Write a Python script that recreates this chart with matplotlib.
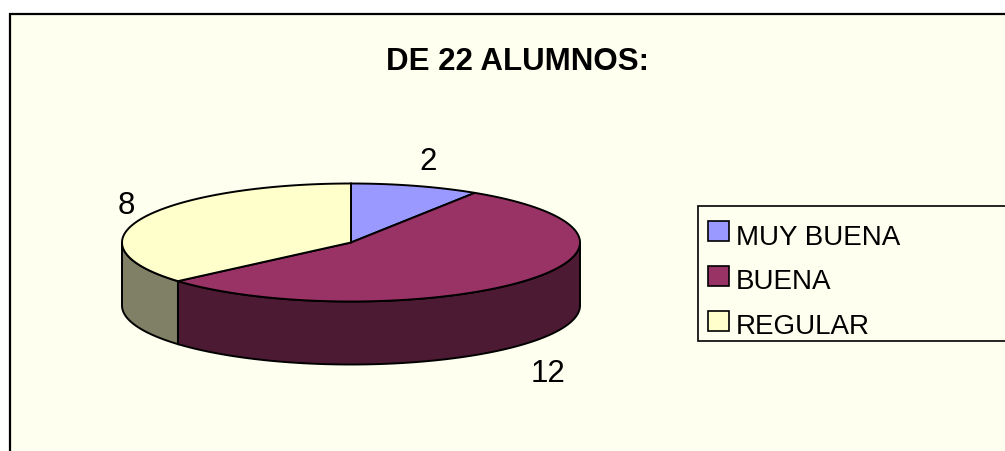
import numpy as np
import matplotlib
matplotlib.use('Agg')
import matplotlib.pyplot as plt
from matplotlib.patches import Rectangle

plt.rcParams['font.family'] = ['Liberation Sans', 'DejaVu Sans']

categories = ['MUY BUENA', 'BUENA', 'REGULAR']
values = [2, 12, 8]
top_colors = ['#9999FF', '#993366', '#FFFFCC']
side_colors = ['#4D4D80', '#4D1A33', '#808066']
bg_color = '#FFFFF0'

W, H = 1005, 452
CX, CY, RX, RY, DEPTH = 351, 243.5, 229, 59, 63

fig = plt.figure(figsize=(W / 100, H / 100), dpi=100, facecolor='white')
ax = fig.add_axes([0, 0, 1, 1])
ax.set_xlim(0, W)
ax.set_ylim(H, 0)
ax.axis('off')

ax.add_patch(Rectangle((10, 15), W + 20, H + 20, fc=bg_color, ec='black', lw=1.6))


def arc(a0, a1, dy=0):
    t = np.radians(np.linspace(a0, a1, 200))
    return CX + RX * np.cos(t), CY - RY * np.sin(t) + dy


# slice angles, clockwise from the top
fracs = np.array(values) / sum(values)
edges = 90 - 360 * np.concatenate([[0], np.cumsum(fracs)])

# side walls first, only the front half (angles -180..0) shows
for i in range(len(values)):
    a0, a1 = edges[i], edges[i + 1]
    for shift in (0, 360):
        lo = max(a1 + shift, -180)
        hi = min(a0 + shift, 0)
        if lo < hi:
            x, y = arc(hi, lo)
            x2, y2 = arc(lo, hi, DEPTH)
            ax.fill(np.r_[x, x2], np.r_[y, y2], fc=side_colors[i], ec='black', lw=1.4, zorder=2)

# top faces
for i in range(len(values)):
    x, y = arc(edges[i], edges[i + 1])
    ax.fill(np.r_[CX, x], np.r_[CY, y], fc=top_colors[i], ec='black', lw=1.4, zorder=3)

ax.text(517, 62, 'DE 22 ALUMNOS:', ha='center', va='center', fontsize=22.5, fontweight='bold')

# value labels
label_pos = [(428, 162), (548, 374), (126, 206)]
for v, (lx, ly) in zip(values, label_pos):
    ax.text(lx, ly, str(v), ha='center', va='center', fontsize=22.5)

# legend
ax.add_patch(Rectangle((698, 207), 320, 135, fc=bg_color, ec='black', lw=1.2, zorder=4))
swatch_y = [222, 267, 312]
text_y = [238, 282, 327]
for i, name in enumerate(categories):
    ax.add_patch(Rectangle((708, swatch_y[i]), 21, 20, fc=top_colors[i], ec='black', lw=1.2, zorder=5))
    ax.text(736, text_y[i], name, ha='left', va='center', fontsize=20, zorder=5)

fig.savefig('out.png', dpi=100)
